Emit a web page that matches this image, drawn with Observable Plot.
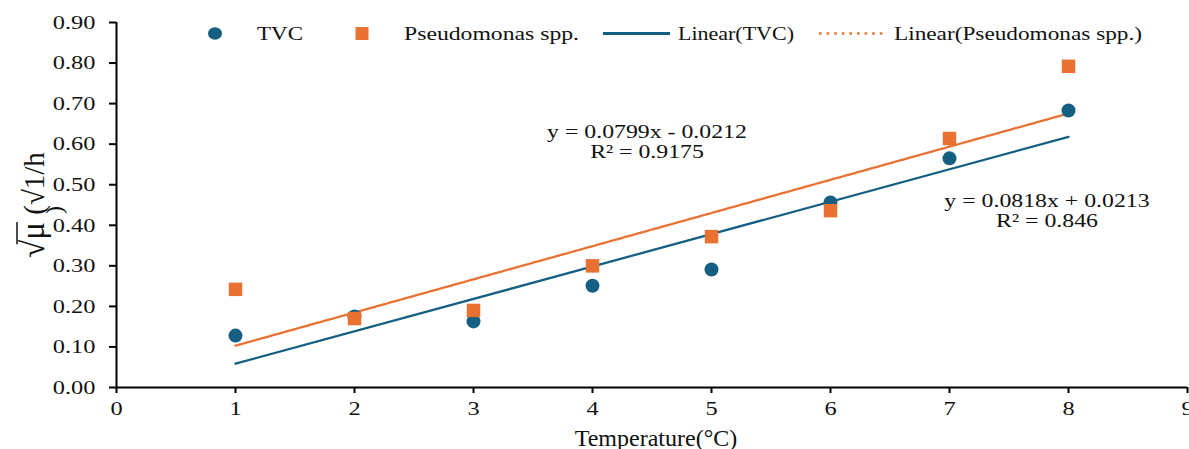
<!DOCTYPE html>
<html><head><meta charset="utf-8">
<script src="https://cdn.jsdelivr.net/npm/d3@7"></script>
<script src="https://cdn.jsdelivr.net/npm/@observablehq/plot@0.6"></script>
<style>
html,body{margin:0;padding:0;background:#fff;overflow:hidden;}
#wrap{position:relative;width:1189px;height:449px;}
#wrap svg{position:absolute;left:0;top:0;}
</style></head><body><div id="wrap"></div>
<script>
// ---- data ----
const temperature = [1, 2, 3, 4, 5, 6, 7, 8];
const tvcValues = [0.128, 0.175, 0.163, 0.251, 0.291, 0.456, 0.565, 0.683];
const pseudomonasValues = [0.242, 0.170, 0.190, 0.300, 0.372, 0.436, 0.614, 0.792];
const seriesNames = ["TVC", "Pseudomonas spp."];
const trendSlopes = [0.0799, 0.0818];
const trendIntercepts = [-0.0212, 0.0213];
const equationLines = [["y = 0.0799x - 0.0212", "R\u00b2 = 0.9175"], ["y = 0.0818x + 0.0213", "R\u00b2 = 0.846"]];
const legendLabels = ["TVC", "Pseudomonas spp.", "Linear(TVC)", "Linear(Pseudomonas spp.)"];
const xTicks = [0, 1, 2, 3, 4, 5, 6, 7, 8, 9];
const yTicks = [0, 0.1, 0.2, 0.3, 0.4, 0.5, 0.6, 0.7, 0.8, 0.9];
const xLabel = "Temperature(\u00b0C)";

const BLUE = "#156082", ORANGE = "#E97132", INK = "#111";
const serif = "'Liberation Serif', 'Times New Roman', serif";
const STRETCH = 1.25;

const tvcRows = temperature.map((t, i) => ({t, v: tvcValues[i]}));
const psRows = temperature.map((t, i) => ({t, v: pseudomonasValues[i]}));
const tMin = d3.min(temperature), tMax = d3.max(temperature);
const trendRows = [0, 1].flatMap(s => [tMin, tMax].map(t => ({s, t, v: trendSlopes[s] * t + trendIntercepts[s]})));

const chart = Plot.plot({
  width: 1189, height: 449,
  marginLeft: 116, marginRight: 2, marginTop: 22, marginBottom: 62,
  style: {fontFamily: serif, fontSize: "19.5px", color: INK, background: "transparent", overflow: "visible"},
  x: {domain: [0, 9]},
  y: {domain: [0, 0.9]},
  marks: [
    Plot.axisX({ticks: xTicks, tickSize: 6, tickPadding: 8, tickFormat: d => String(d), label: null, strokeWidth: 2, stroke: "#000"}),
    Plot.axisY({ticks: yTicks, tickSize: 7, tickPadding: 14, tickFormat: d => d.toFixed(2), label: null, strokeWidth: 2, stroke: "#000"}),
    Plot.ruleY([0], {stroke: "#000", strokeWidth: 2}),
    Plot.ruleX([0], {stroke: "#000", strokeWidth: 2}),
    Plot.line(trendRows.filter(d => d.s === 0), {x: "t", y: "v", stroke: BLUE, strokeWidth: 2.3}),
    Plot.line(trendRows.filter(d => d.s === 1), {x: "t", y: "v", stroke: ORANGE, strokeWidth: 2.3, strokeDasharray: "3,1"}),
    Plot.dot(tvcRows, {x: "t", y: "v", r: 7, fill: BLUE, stroke: "none"}),
    Plot.dot(psRows, {x: "t", y: "v", r: 7.6, symbol: "square", fill: ORANGE, stroke: "none"})
  ]
});
document.getElementById("wrap").appendChild(chart);

// stretch text horizontally like the reference (wide Times look)
function widen(sel, k) {
  sel.each(function () {
    const len = this.getComputedTextLength();
    if (len > 0) {
      this.setAttribute("textLength", (len * k).toFixed(1));
      this.setAttribute("lengthAdjust", "spacingAndGlyphs");
    }
  });
}
widen(d3.select(chart).selectAll("g[aria-label='x-axis tick label'] text, g[aria-label='y-axis tick label'] text"), STRETCH);

// ---- overlay: legend, equations, axis titles ----
const ov = d3.select("#wrap").append("svg")
  .attr("width", 1189).attr("height", 449)
  .style("pointer-events", "none").style("overflow", "visible");

// legend
const lg = ov.append("g").attr("font-family", serif).attr("font-size", 18.5).attr("fill", INK);
lg.append("ellipse").attr("cx", 215).attr("cy", 33.5).attr("rx", 7).attr("ry", 6.2).attr("fill", BLUE);
lg.append("text").attr("x", 257).attr("y", 40).attr("textLength", 46).attr("lengthAdjust", "spacingAndGlyphs").text(legendLabels[0]);
lg.append("rect").attr("x", 355.5).attr("y", 27).attr("width", 13).attr("height", 13).attr("fill", ORANGE);
lg.append("text").attr("x", 404).attr("y", 40).attr("textLength", 175).attr("lengthAdjust", "spacingAndGlyphs").text(legendLabels[1]);
lg.append("line").attr("x1", 603).attr("x2", 670).attr("y1", 33.5).attr("y2", 33.5).attr("stroke", BLUE).attr("stroke-width", 3);
lg.append("text").attr("x", 678).attr("y", 40).attr("textLength", 116).attr("lengthAdjust", "spacingAndGlyphs").text(legendLabels[2]);
lg.append("line").attr("x1", 819).attr("x2", 885).attr("y1", 33.5).attr("y2", 33.5).attr("stroke", ORANGE).attr("stroke-width", 2.6).attr("stroke-dasharray", "2.6,5");
lg.append("text").attr("x", 894).attr("y", 40).attr("textLength", 248).attr("lengthAdjust", "spacingAndGlyphs").text(legendLabels[3]);

// equations
const eqPos = [[647, 138], [1047, 207]];
equationLines.forEach((lines, s) => {
  lines.forEach((ln, k) => {
    const t = ov.append("text").attr("x", eqPos[s][0]).attr("y", eqPos[s][1] + k * 20)
      .attr("text-anchor", "middle").attr("font-family", serif)
      .attr("font-size", 19.5).attr("fill", INK).text(ln);
    widen(t, 1.22);
  });
});

// x axis title
ov.append("text").attr("x", 656).attr("y", 446).attr("text-anchor", "middle")
  .attr("font-family", serif).attr("font-size", 24).attr("fill", INK).text(xLabel);

// y axis title (rotated)
const yg = ov.append("g").attr("transform", "translate(44,205) rotate(-90)")
  .attr("font-family", serif).attr("fill", INK);
const yt = yg.append("text").attr("text-anchor", "middle");
yt.append("tspan").attr("font-size", 33).text("\u221a\u03bc");
yt.append("tspan").attr("font-size", 29).text(" (\u221a1/h");
yg.append("text").attr("x", -5).attr("y", 18).attr("text-anchor", "middle").attr("font-size", 24).text(")");
// vinculum over mu
const node = yt.node();
try {
  const s0 = node.getStartPositionOfChar(0), e1 = node.getEndPositionOfChar(1);
  const ext = node.getExtentOfChar(0);
  yg.append("line").attr("x1", s0.x + ext.width * 0.75).attr("x2", e1.x).attr("y1", ext.y + 2).attr("y2", ext.y + 2)
    .attr("stroke", INK).attr("stroke-width", 1.5);
} catch (e) {}
</script>
</body></html>
